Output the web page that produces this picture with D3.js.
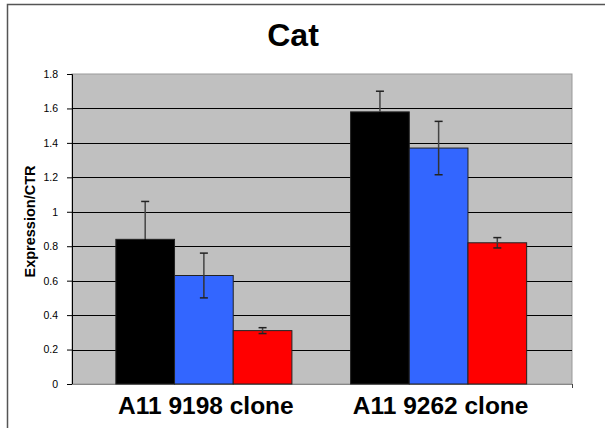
<!DOCTYPE html>
<html><head><meta charset="utf-8">
<script src="https://cdn.jsdelivr.net/npm/d3@7"></script>
<style>body{margin:0;background:#fff}svg{display:block}text{font-family:"Liberation Sans",Arial,sans-serif}</style>
</head><body><svg id="c" width="605" height="428"></svg>
<script>
const categories = ["A11 9198 clone", "A11 9262 clone"];
const seriesNames = ["s1", "s2", "s3"];
const seriesColors = ["#000000", "#3366FF", "#FF0000"];
const values = [[0.84, 0.63, 0.31], [1.58, 1.37, 0.82]];
const errors = [[0.22, 0.13, 0.017], [0.12, 0.155, 0.03]];
const yTicks = [0, 0.2, 0.4, 0.6, 0.8, 1, 1.2, 1.4, 1.6, 1.8];

const svg = d3.select("#c");
const plot = {l: 72, r: 572, t: 74, b: 384};

// outer frame
svg.append("path").attr("d", "M7.5,428 V4.5 H605").attr("fill", "none").attr("stroke", "#555").attr("stroke-width", 1.5);

const y = d3.scaleLinear().domain([0, 1.8]).range([plot.b, plot.t]);
const x = d3.scaleBand().domain(categories).range([86.5, 556]).paddingInner(0).paddingOuter(0);
const xs = d3.scaleBand().domain(seriesNames).range([0, x.bandwidth() * 0.75]);
const off = x.bandwidth() * 0.125;

svg.append("rect").attr("x", plot.l).attr("y", plot.t).attr("width", plot.r - plot.l).attr("height", plot.b - plot.t)
  .attr("fill", "#C0C0C0").attr("stroke", "#999").attr("stroke-width", 1);

// gridlines
svg.append("g").selectAll("line").data(yTicks.filter(d => d > 0 && d < 1.8)).join("line")
  .attr("x1", plot.l).attr("x2", plot.r).attr("y1", d => Math.round(y(d)) + 0.5).attr("y2", d => Math.round(y(d)) + 0.5)
  .attr("stroke", "#000").attr("stroke-width", 1.2);

// y axis
const yAxis = d3.axisLeft(y).tickValues(yTicks).tickSize(5).tickPadding(9).tickFormat(d => d3.format("")(d));
const ga = svg.append("g").attr("transform", `translate(${plot.l},0)`).call(yAxis);
ga.select(".domain").attr("stroke", "#000");
ga.selectAll(".tick line").attr("stroke", "#000");
ga.selectAll("text").attr("font-size", 10.5).attr("fill", "#000").style("font-family", "'Liberation Sans',Arial,sans-serif");

// x axis line
svg.append("line").attr("x1", plot.l).attr("x2", plot.r).attr("y1", plot.b + 0.5).attr("y2", plot.b + 0.5).attr("stroke", "#888");
svg.append("line").attr("x1", plot.r + 0.5).attr("x2", plot.r + 0.5).attr("y1", plot.b).attr("y2", plot.b + 4).attr("stroke", "#444");

// bars
const groups = svg.append("g").selectAll("g").data(categories).join("g")
  .attr("transform", d => `translate(${x(d) + off},0)`);
groups.selectAll("rect").data((d, i) => values[i].map((v, j) => ({v, j, e: errors[i][j]}))).join("rect")
  .attr("x", d => xs(seriesNames[d.j])).attr("width", xs.bandwidth())
  .attr("y", d => y(d.v)).attr("height", d => y(0) - y(d.v))
  .attr("fill", d => seriesColors[d.j]).attr("stroke", "#222").attr("stroke-width", 1);

// error bars
const eb = groups.selectAll("g.eb").data((d, i) => values[i].map((v, j) => ({v, j, e: errors[i][j]}))).join("g").attr("class", "eb")
  .attr("transform", d => `translate(${xs(seriesNames[d.j]) + xs.bandwidth() / 2},0)`);
eb.append("line").attr("y1", d => y(d.v + d.e)).attr("y2", d => y(d.v)).attr("stroke", "#444").attr("stroke-width", 1.5);
eb.append("line").attr("y1", d => y(d.v)).attr("y2", d => y(d.v - d.e)).attr("stroke", d => d.j === 0 ? "#000" : "#333").attr("stroke-width", 1.5);
eb.append("line").attr("x1", -4).attr("x2", 4).attr("y1", d => y(d.v + d.e)).attr("y2", d => y(d.v + d.e)).attr("stroke", "#222").attr("stroke-width", 1.5);
eb.append("line").attr("x1", -4).attr("x2", 4).attr("y1", d => y(d.v - d.e)).attr("y2", d => y(d.v - d.e)).attr("stroke", d => d.j === 0 ? "#000" : "#222").attr("stroke-width", 1.5);

// category labels
svg.append("g").selectAll("text").data(categories).join("text")
  .attr("x", d => x(d) + x.bandwidth() / 2 + 2).attr("y", 414).attr("text-anchor", "middle")
  .attr("font-size", 24.5).attr("font-weight", "bold").attr("fill", "#000").text(d => d);

// title
svg.append("text").attr("x", 293).attr("y", 46).attr("text-anchor", "middle").attr("font-size", 32).attr("font-weight", "bold").text("Cat");

// y label
svg.append("text").attr("transform", "translate(35,221.5) rotate(-90)").attr("text-anchor", "middle")
  .attr("font-size", 14.5).attr("font-weight", "bold").text("Expression/CTR");
</script></body></html>
